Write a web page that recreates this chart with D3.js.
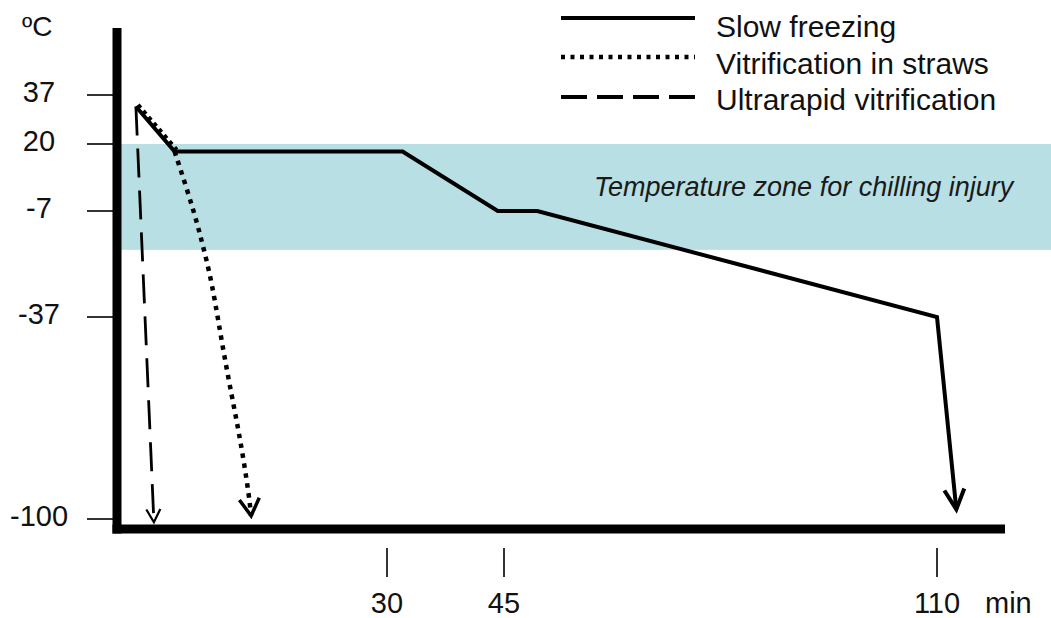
<!DOCTYPE html>
<html>
<head>
<meta charset="utf-8">
<script src="https://cdn.jsdelivr.net/npm/d3@7"></script>
<style>
  body { margin: 0; background: #fff; }
  svg { display: block; font-family: "Liberation Sans", Arial, sans-serif; }
</style>
</head>
<body>
<svg id="chart" width="1051" height="618"></svg>
<script>
// temperatures (ºC) and times (min)
const yTicks = [37, 20, -7, -37, -100];
const xTicks = [30, 45, 110];
const chillZone = [20, -18];

// [min, ºC]
const slowFreezing = [[2.1, 33], [6.4, 17], [32, 17], [44.2, -7], [50, -7], [110, -37], [112.9, -97]];
const vitStraws = [[2.1, 33], [6.4, 17], [7.8, 1.5], [8.9, -10.4], [9.44, -15.8], [10.56, -27.1],
  [11.78, -47.3], [13.1, -66.6], [13.7, -75.4], [14.6, -91], [14.9, -99]];
const ultrarapid = [[2.1, 33], [4.1, -101]];

const legendLabels = ["Slow freezing", "Vitrification in straws", "Ultrarapid vitrification"];

const W = 1051, H = 618;
const svg = d3.select("#chart");

// the original axes are not to scale, so both scales are piecewise
const x = d3.scaleLinear().domain([0, 30, 45, 110]).range([117, 387, 504, 937]);
const y = d3.scaleLinear().domain([37, 20, -7, -37, -100]).range([95, 144, 211, 317, 519]);

const axisX = 117, axisTop = 28, axisY = 529, axisEnd = 1005;

// arrow heads
const defs = svg.append("defs");
function marker(id, back, spread, width) {
  defs.append("marker")
    .attr("id", id)
    .attr("markerUnits", "userSpaceOnUse")
    .attr("viewBox", "-30 -20 40 40")
    .attr("markerWidth", 40).attr("markerHeight", 40)
    .attr("refX", 0).attr("refY", 0)
    .attr("orient", "auto")
    .append("path")
    .attr("d", `M${-back},${-spread}L0,0L${-back},${spread}`)
    .attr("fill", "none")
    .attr("stroke", "#000")
    .attr("stroke-width", width)
    .attr("stroke-linejoin", "miter");
}
marker("arrSolid", 20, 10, 4);
marker("arrDot", 17, 10, 3.5);
marker("arrDash", 13, 7, 2.2);

// chilling injury band
svg.append("rect")
  .attr("x", axisX)
  .attr("y", y(chillZone[0]))
  .attr("width", W - axisX)
  .attr("height", y(chillZone[1]) - y(chillZone[0]))
  .attr("fill", "#b8dfe3");

svg.append("text")
  .attr("x", 594).attr("y", 196)
  .attr("font-size", 27)
  .attr("font-style", "italic")
  .attr("fill", "#1a1a1a")
  .text("Temperature zone for chilling injury");

// y ticks
svg.append("g").selectAll("line").data(yTicks).enter().append("line")
  .attr("x1", 87).attr("x2", axisX)
  .attr("y1", d => y(d)).attr("y2", d => y(d))
  .attr("stroke", "#333").attr("stroke-width", 2);

svg.append("g").selectAll("text").data(yTicks).enter().append("text")
  .attr("x", 39).attr("y", d => y(d) + 7)
  .attr("text-anchor", "middle")
  .attr("font-size", 29)
  .attr("fill", "#111")
  .text(d => d);

svg.append("text")
  .attr("x", 22).attr("y", 36)
  .attr("font-size", 28)
  .attr("fill", "#111")
  .text("ºC");

// x ticks
svg.append("g").selectAll("line").data(xTicks).enter().append("line")
  .attr("x1", d => x(d)).attr("x2", d => x(d))
  .attr("y1", 548).attr("y2", 577)
  .attr("stroke", "#333").attr("stroke-width", 2);

svg.append("g").selectAll("text").data(xTicks).enter().append("text")
  .attr("x", d => x(d)).attr("y", 613)
  .attr("text-anchor", "middle")
  .attr("font-size", 29)
  .attr("fill", "#111")
  .text(d => d);

svg.append("text")
  .attr("x", 985).attr("y", 613)
  .attr("font-size", 29)
  .attr("fill", "#111")
  .text("min");

// axes
svg.append("line")
  .attr("x1", axisX).attr("x2", axisX)
  .attr("y1", axisTop).attr("y2", axisY + 4.5)
  .attr("stroke", "#000").attr("stroke-width", 9);
svg.append("line")
  .attr("x1", axisX - 4.5).attr("x2", axisEnd)
  .attr("y1", axisY).attr("y2", axisY)
  .attr("stroke", "#000").attr("stroke-width", 9);

// series
const line = d3.line().x(d => x(d[0])).y(d => y(d[1]));
const curve = d3.line().x(d => x(d[0])).y(d => y(d[1])).curve(d3.curveBasis);

// dotted: straight part alongside the solid line, then the curve
svg.append("path")
  .attr("d", line(vitStraws.slice(0, 2)))
  .attr("transform", "translate(2,-1.5)")
  .attr("fill", "none").attr("stroke", "#000")
  .attr("stroke-width", 4.5).attr("stroke-dasharray", "4,4");
svg.append("path")
  .attr("d", curve(vitStraws.slice(1)))
  .attr("fill", "none").attr("stroke", "#000")
  .attr("stroke-width", 4.5).attr("stroke-dasharray", "4.5,5.5")
  .attr("marker-end", "url(#arrDot)");

svg.append("path")
  .attr("d", line(ultrarapid))
  .attr("fill", "none").attr("stroke", "#000")
  .attr("stroke-width", 2.8).attr("stroke-dasharray", "29,13")
  .attr("marker-end", "url(#arrDash)");

svg.append("path")
  .attr("d", line(slowFreezing))
  .attr("fill", "none").attr("stroke", "#000")
  .attr("stroke-width", 4).attr("stroke-linejoin", "miter")
  .attr("marker-end", "url(#arrSolid)");

// legend
const legendStyles = [
  { dash: null, width: 4 },
  { dash: "4,5.5", width: 4.5 },
  { dash: "26,10", width: 4 }
];
const legendLineY = [18, 57, 97];
const legend = svg.append("g");
legend.selectAll("line").data(legendLabels).enter().append("line")
  .attr("x1", 561).attr("x2", 695)
  .attr("y1", (d, i) => legendLineY[i]).attr("y2", (d, i) => legendLineY[i])
  .attr("stroke", "#000")
  .attr("stroke-width", (d, i) => legendStyles[i].width)
  .attr("stroke-dasharray", (d, i) => legendStyles[i].dash);
legend.selectAll("text").data(legendLabels).enter().append("text")
  .attr("x", 716)
  .attr("y", (d, i) => 37 + i * 36.5)
  .attr("font-size", 30)
  .attr("fill", "#111")
  .text(d => d);
</script>
</body>
</html>
